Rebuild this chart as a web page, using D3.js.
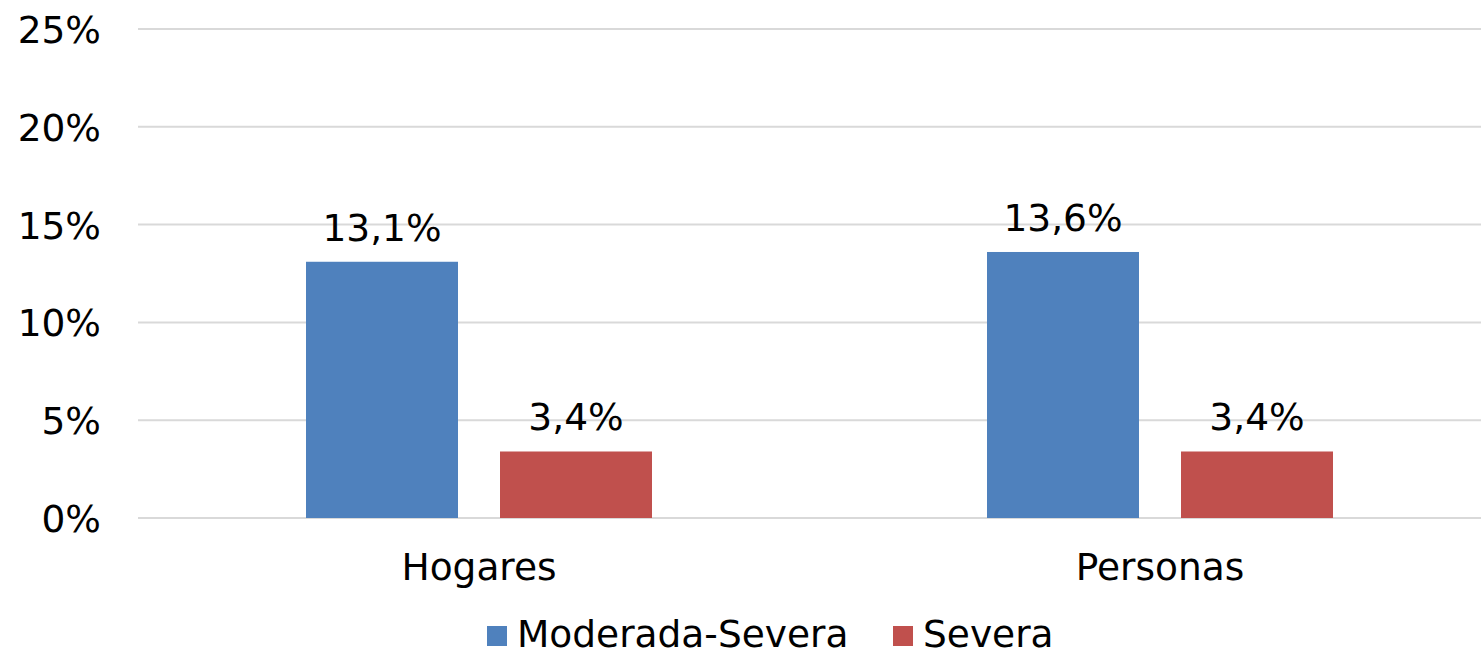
<!DOCTYPE html>
<html><head><meta charset="utf-8">
<script src="https://cdn.jsdelivr.net/npm/d3@7"></script>
<style>html,body{margin:0;padding:0;background:#fff;}svg{display:block;font-family:"DejaVu Sans",Verdana,sans-serif;}</style>
</head><body><svg id="c" width="1481" height="652"></svg>
<script>
const categories = ["Hogares", "Personas"];
const seriesNames = ["Moderada-Severa", "Severa"];
const moderadaSevera = [13.1, 13.6];
const severa = [3.4, 3.4];
const yTicks = [0, 5, 10, 15, 20, 25];
const colors = ["#4F81BD", "#C0504D"];

const FS = 37.5;
const svg = d3.select("#c");
const x0 = d3.scaleBand().domain(categories).range([138.5, 1500.5]).paddingInner(0).paddingOuter(0);
const x1 = d3.scaleBand().domain(seriesNames).range([0, x0.bandwidth()]).paddingInner(0.2165).paddingOuter(0.8634);
const y = d3.scaleLinear().domain([0, 25]).range([518, 29]);

// gridlines
svg.append("g").selectAll("line").data(yTicks).join("line")
  .attr("x1", 138).attr("x2", 1481)
  .attr("y1", d => y(d)).attr("y2", d => y(d))
  .attr("stroke", "#d9d9d9").attr("stroke-width", 2);

// y axis labels
const yAxis = d3.axisLeft(y).tickValues(yTicks).tickFormat(d => d + "%").tickSize(0).tickPadding(0);
const ga = svg.append("g").attr("transform", "translate(101,0)").call(yAxis);
ga.select(".domain").remove();
ga.selectAll("text").attr("font-size", FS).attr("fill", "#000").attr("font-family", "DejaVu Sans, Verdana, sans-serif").attr("dy", "0.36em");

const data = categories.map((c, i) => ({cat: c, vals: [moderadaSevera[i], severa[i]]}));
const fmt = v => v.toFixed(1).replace(".", ",") + "%";

const groups = svg.append("g").selectAll("g").data(data).join("g")
  .attr("transform", d => `translate(${x0(d.cat)},0)`);
groups.selectAll("rect").data(d => d.vals.map((v, j) => ({s: seriesNames[j], v, j}))).join("rect")
  .attr("x", d => x1(d.s)).attr("width", x1.bandwidth())
  .attr("y", d => y(d.v)).attr("height", d => y(0) - y(d.v))
  .attr("fill", d => colors[d.j]);
groups.selectAll("text").data(d => d.vals.map((v, j) => ({s: seriesNames[j], v, j}))).join("text")
  .attr("x", d => x1(d.s) + x1.bandwidth() / 2).attr("y", d => y(d.v) - 21)
  .attr("text-anchor", "middle").attr("font-size", FS).attr("fill", "#000")
  .text(d => fmt(d.v));

// x axis labels
const xAxis = d3.axisBottom(x0).tickSize(0).tickPadding(0);
const gx = svg.append("g").attr("transform", "translate(0,580)").call(xAxis);
gx.select(".domain").remove();
gx.selectAll("text").attr("font-size", FS).attr("fill", "#000").attr("font-family", "DejaVu Sans, Verdana, sans-serif").attr("dy", 0);

// legend
const legendX = [487, 893];
const lg = svg.append("g").selectAll("g").data(seriesNames).join("g")
  .attr("transform", (d, i) => `translate(${legendX[i]},0)`);
lg.append("rect").attr("x", 0).attr("y", 626).attr("width", 20).attr("height", 20).attr("fill", (d, i) => colors[i]);
lg.append("text").attr("x", 30).attr("y", 647).attr("font-size", FS).attr("fill", "#000").text(d => d);
</script></body></html>
